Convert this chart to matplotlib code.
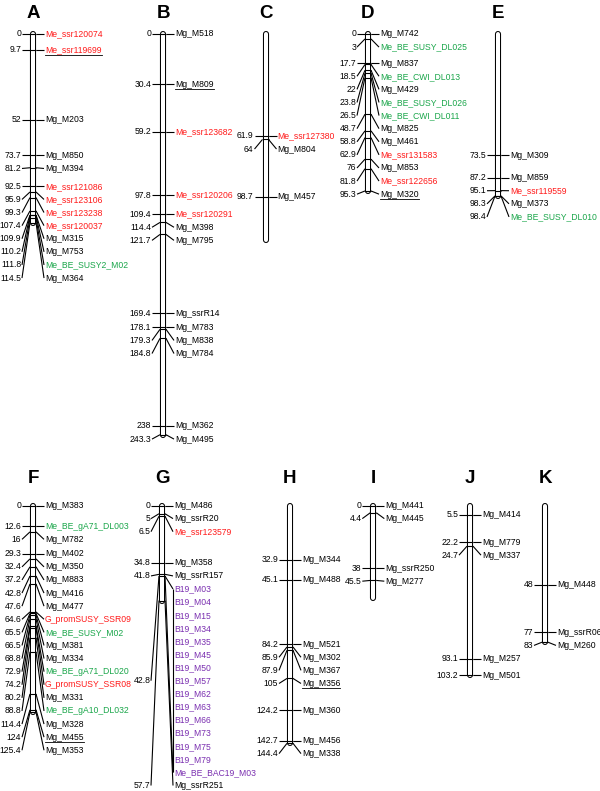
import matplotlib
matplotlib.use("Agg")
import matplotlib.pyplot as plt
import numpy as np

plt.rcParams['font.family'] = ['Liberation Sans', 'DejaVu Sans']

# ---- map data: positions in cM, marker names, text colour codes ----
A_pos = [0, 9.7, 52, 73.7, 81.2, 92.5, 95.9, 99.3, 107.4, 109.9, 110.2, 111.8, 114.5]
A_names = ["Me_ssr120074", "Me_ssr119699", "Mg_M203", "Mg_M850", "Mg_M394", "Me_ssr121086",
           "Me_ssr123106", "Me_ssr123238", "Me_ssr120037", "Mg_M315", "Mg_M753",
           "Me_BE_SUSY2_M02", "Mg_M364"]
A_cols = "rrkkkrrrrkkgk"

B_pos = [0, 30.4, 59.2, 97.8, 109.4, 114.4, 121.7, 169.4, 178.1, 179.3, 184.8, 238, 243.3]
B_names = ["Mg_M518", "Mg_M809", "Me_ssr123682", "Me_ssr120206", "Me_ssr120291", "Mg_M398",
           "Mg_M795", "Mg_ssrR14", "Mg_M783", "Mg_M838", "Mg_M784", "Mg_M362", "Mg_M495"]
B_cols = "kkrrrkkkkkkkk"

C_pos = [61.9, 64, 98.7]
C_names = ["Me_ssr127380", "Mg_M804", "Mg_M457"]
C_cols = "rkk"

D_pos = [0, 3, 17.7, 18.5, 22, 23.8, 26.5, 48.7, 58.8, 62.9, 76, 81.8, 95.3]
D_names = ["Mg_M742", "Me_BE_SUSY_DL025", "Mg_M837", "Me_BE_CWI_DL013", "Mg_M429",
           "Me_BE_SUSY_DL026", "Me_BE_CWI_DL011", "Mg_M825", "Mg_M461", "Me_ssr131583",
           "Mg_M853", "Me_ssr122656", "Mg_M320"]
D_cols = "kgkgkggkkrkrk"

E_pos = [73.5, 87.2, 95.1, 98.3, 98.4]
E_names = ["Mg_M309", "Mg_M859", "Me_ssr119559", "Mg_M373", "Me_BE_SUSY_DL010"]
E_cols = "kkrkg"

F_pos = [0, 12.6, 16, 29.3, 32.4, 37.2, 42.8, 47.6, 64.6, 65.5, 66.5, 68.8, 72.9, 74.2,
         80.2, 88.8, 114.4, 124, 125.4]
F_names = ["Mg_M383", "Me_BE_gA71_DL003", "Mg_M782", "Mg_M402", "Mg_M350", "Mg_M883",
           "Mg_M416", "Mg_M477", "G_promSUSY_SSR09", "Me_BE_SUSY_M02", "Mg_M381", "Mg_M334",
           "Me_BE_gA71_DL020", "G_promSUSY_SSR08", "Mg_M331", "Me_BE_gA10_DL032", "Mg_M328",
           "Mg_M455", "Mg_M353"]
F_cols = "kgkkkkkkrgkkgrkgkkk"

G_pos = [0, 5, 6.5, 34.8, 41.8] + [42.8] * 15 + [57.7]
G_names = ["Mg_M486", "Mg_ssrR20", "Me_ssr123579", "Mg_M358", "Mg_ssrR157",
           "B19_M03", "B19_M04", "B19_M15", "B19_M34", "B19_M35", "B19_M45", "B19_M50",
           "B19_M57", "B19_M62", "B19_M63", "B19_M66", "B19_M73", "B19_M75", "B19_M79",
           "Me_BE_BAC19_M03", "Mg_ssrR251"]
G_cols = "kkrkk" + "p" * 15 + "k"

H_pos = [32.9, 45.1, 84.2, 85.9, 87.9, 105, 124.2, 142.7, 144.4]
H_names = ["Mg_M344", "Mg_M488", "Mg_M521", "Mg_M302", "Mg_M367", "Mg_M356", "Mg_M360",
           "Mg_M456", "Mg_M338"]
H_cols = "kkkkkkkkk"

I_pos = [0, 4.4, 38, 45.5]
I_names = ["Mg_M441", "Mg_M445", "Mg_ssrR250", "Mg_M277"]
I_cols = "kkkk"

J_pos = [5.5, 22.2, 24.7, 93.1, 103.2]
J_names = ["Mg_M414", "Mg_M779", "Mg_M337", "Mg_M257", "Mg_M501"]
J_cols = "kkkkk"

K_pos = [48, 77, 83]
K_names = ["Mg_M448", "Mg_ssrR06", "Mg_M260"]
K_cols = "kkk"

# total length of each linkage group (cM)
lengths = {"A": 114.5, "B": 243.3, "C": 125, "D": 95.3, "E": 98.4, "F": 125.4,
           "G": 57.7, "H": 144.4, "I": 56, "J": 103.2, "K": 83}

underlined = ["Me_ssr119699", "Mg_M809", "Mg_M320", "Mg_M455", "Mg_M356"]

palette = {"k": "black", "r": "#ff1a1a", "g": "#1aa64a", "p": "#7a2fb0"}

# ---- layout (pixels) ----
W, H = 600, 791
S = 1.647            # pixels per cM
GAP = 13.1 / S       # min label spacing in cM
HALF = 3.0           # half chromosome width, px
ARM = 11.0           # label connector reach, px
FS = 6.2

row1 = [("A", 33), ("B", 163), ("C", 265.5), ("D", 368), ("E", 498)]
row2 = [("F", 33), ("G", 162), ("H", 290), ("I", 373.3), ("J", 470), ("K", 545)]

fig = plt.figure(figsize=(W / 100, H / 100), dpi=100)
ax1 = fig.add_axes([0, 1 - 390 / H, 1, 390 / H])
ax1.set_xlim(0, W)
ax1.set_ylim((390 - 34) / S, -34 / S)
ax2 = fig.add_axes([0, 0, 1, 1 - 390 / H])
ax2.set_xlim(0, W)
ax2.set_ylim((H - 505.5) / S, (390 - 505.5) / S)
for ax in (ax1, ax2):
    ax.axis("off")

renderer = fig.canvas.get_renderer()


def spread(pos, gap):
    out = []
    for p in pos:
        out.append(p if not out else max(p, out[-1] + gap))
    return out


def draw_group(ax, cx, title, title_y, pos, names, cols, length):
    lk = dict(color="black", lw=0.8, solid_capstyle="butt", zorder=3, clip_on=False)
    # chromosome body
    ax.plot([cx, cx], [0, length], color="black", lw=4.4, solid_capstyle="round",
            zorder=1, clip_on=False)
    ax.plot([cx, cx], [0, length], color="white", lw=2.9, solid_capstyle="round",
            zorder=2, clip_on=False)
    ax.text(cx, title_y, title, ha="center", va="center", fontsize=13.5,
            fontweight="bold", zorder=4)

    ly = spread(pos, GAP)
    # group markers sharing a position
    groups = []
    for i, p in enumerate(pos):
        if groups and pos[groups[-1][0]] == p:
            groups[-1].append(i)
        else:
            groups.append([i])

    for g in groups:
        t = pos[g[0]]
        ax.plot([cx - HALF, cx + HALF], [t, t], **lk)
        # left side: position number
        yl = np.mean([ly[i] for i in g])
        ax.plot([cx - HALF, cx - ARM], [t, yl], **lk)
        ax.text(cx - ARM - 0.8, yl, f"{t:g}", ha="right", va="center", fontsize=FS,
                zorder=4, clip_on=False)
        # right side: marker names
        if len(g) == 1:
            ax.plot([cx + HALF, cx + ARM], [t, ly[g[0]]], **lk)
        else:
            y0, y1 = ly[g[0]], ly[g[-1]]
            ax.plot([cx + HALF, cx + ARM], [t, y0], **lk)
            ax.plot([cx + HALF, cx + ARM], [t, y1], **lk)
            ax.plot([cx + ARM, cx + ARM], [y0, y1], **lk)
        for i in g:
            txt = ax.text(cx + ARM + 1, ly[i], names[i], ha="left", va="center",
                          fontsize=FS, color=palette[cols[i]], zorder=4, clip_on=False)
            if names[i] in underlined:
                bb = txt.get_window_extent(renderer)
                yu = ly[i] + 5.0 / S
                ax.plot([bb.x0, bb.x1], [yu, yu], color="black", lw=0.6, zorder=4,
                        clip_on=False)


data = {"A": (A_pos, A_names, A_cols), "B": (B_pos, B_names, B_cols),
        "C": (C_pos, C_names, C_cols), "D": (D_pos, D_names, D_cols),
        "E": (E_pos, E_names, E_cols), "F": (F_pos, F_names, F_cols),
        "G": (G_pos, G_names, G_cols), "H": (H_pos, H_names, H_cols),
        "I": (I_pos, I_names, I_cols), "J": (J_pos, J_names, J_cols),
        "K": (K_pos, K_names, K_cols)}

for name, cx in row1:
    p, n, c = data[name]
    draw_group(ax1, cx, name, (14 - 34) / S, p, n, c, lengths[name])
for name, cx in row2:
    p, n, c = data[name]
    draw_group(ax2, cx, name, (478 - 505.5) / S, p, n, c, lengths[name])

fig.savefig("out.png", dpi=100, facecolor="white")
